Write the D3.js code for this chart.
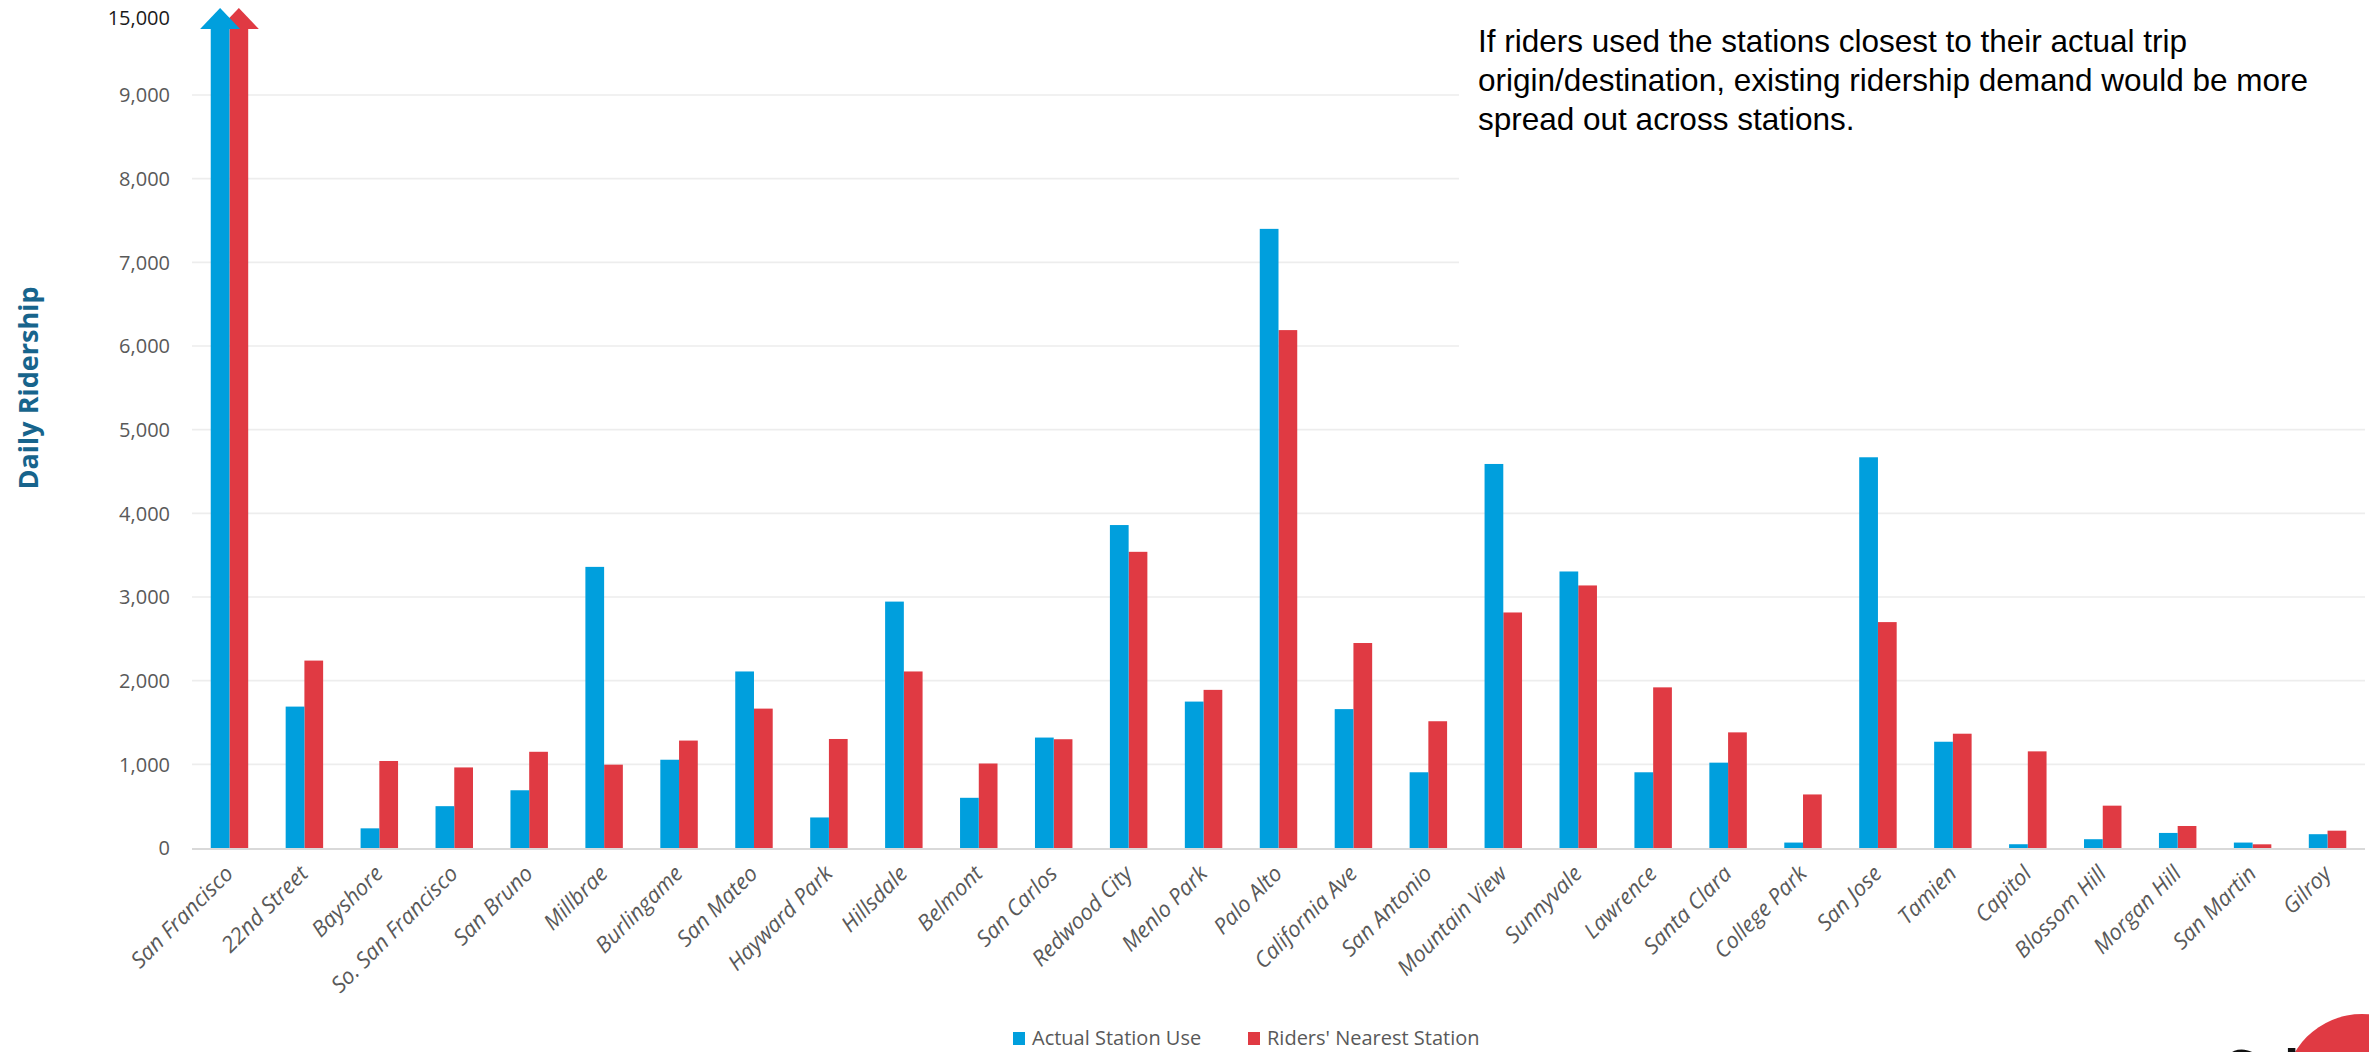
<!DOCTYPE html>
<html>
<head>
<meta charset="utf-8">
<script src="https://cdn.jsdelivr.net/npm/d3@7"></script>
<style>
  html, body { margin: 0; padding: 0; background: #ffffff; }
  svg { display: block; }
</style>
</head>
<body>
<svg id="chart" width="2369" height="1052"></svg>
<script>
// ---------- DATA ----------
const categories = ["San Francisco", "22nd Street", "Bayshore", "So. San Francisco", "San Bruno", "Millbrae",
  "Burlingame", "San Mateo", "Hayward Park", "Hillsdale", "Belmont", "San Carlos", "Redwood City",
  "Menlo Park", "Palo Alto", "California Ave", "San Antonio", "Mountain View", "Sunnyvale", "Lawrence",
  "Santa Clara", "College Park", "San Jose", "Tamien", "Capitol", "Blossom Hill", "Morgan Hill",
  "San Martin", "Gilroy"];
const actualStationUse = [15000, 1690, 235, 500, 690, 3360, 1055, 2110, 365, 2945, 600, 1320, 3860,
  1750, 7400, 1660, 905, 4590, 3305, 905, 1020, 65, 4670, 1270, 45, 105, 180, 65, 165];
const ridersNearestStation = [15000, 2240, 1040, 963, 1150, 996, 1284, 1666, 1303, 2110, 1010, 1300, 3540,
  1890, 6190, 2450, 1515, 2815, 3138, 1920, 1382, 640, 2700, 1366, 1155, 506, 263, 44, 207];
const seriesNames = ["Actual Station Use", "Riders' Nearest Station"];
const seriesColors = ["#009fdd", "#e03a43"];
const yTickValues = [0, 1000, 2000, 3000, 4000, 5000, 6000, 7000, 8000, 9000, 15000];
const yBreakValues = [0, 9000, 15000];   // broken axis: 9,000 then jumps to 15,000
const axisTitle = "Daily Ridership";
const noteLines = ["If riders used the stations closest to their actual trip",
  "origin/destination, existing ridership demand would be more",
  "spread out across stations."];

// ---------- LAYOUT ----------
const svg = d3.select("#chart");
const W = 2369, H = 1052;
const plot = { left: 192, right: 2365, top: 18, bottom: 848 };

const x = d3.scaleBand().domain(categories).range([plot.left, plot.right])
  .paddingInner(0.5).paddingOuter(0.25);
const xs = d3.scaleBand().domain([0, 1]).range([0, x.bandwidth()]).padding(0);
const y = d3.scaleLinear().domain(yBreakValues).range([plot.bottom, 95, plot.top]);

// gridlines (not at 0, not at 15,000)
svg.append("g").selectAll("line")
  .data(yTickValues.filter(v => v > 0 && v <= 9000))
  .join("line")
  .attr("x1", plot.left).attr("x2", plot.right)
  .attr("y1", d => y(d)).attr("y2", d => y(d))
  .attr("stroke", "#ededed").attr("stroke-width", 1.6);

// y axis labels
const yAxis = d3.axisLeft(y).tickValues(yTickValues).tickFormat(d3.format(",")).tickSize(0).tickPadding(0);
const yg = svg.append("g").attr("transform", `translate(170,0)`).call(yAxis);
yg.select(".domain").remove();
yg.selectAll("text")
  .attr("font-family", "'Open Sans', sans-serif")
  .attr("font-size", 20)
  .attr("fill", d => d === 15000 ? "#1a1a1a" : "#595959")
  .attr("dy", "0.34em");

// bars
const rows = categories.map((c, i) => ({ c, vals: [actualStationUse[i], ridersNearestStation[i]] }));
const capped = v => v > 9000;
const groups = svg.append("g").selectAll("g").data(rows).join("g")
  .attr("transform", d => `translate(${x(d.c)},0)`);

// draw red (series 1) first then blue so blue arrowhead overlaps red
[1, 0].forEach(s => {
  groups.append("rect")
    .attr("x", xs(s))
    .attr("width", xs.bandwidth())
    .attr("y", d => capped(d.vals[s]) ? y(d.vals[s]) + 11 : y(d.vals[s]))
    .attr("height", d => plot.bottom - (capped(d.vals[s]) ? y(d.vals[s]) + 11 : y(d.vals[s])))
    .attr("fill", seriesColors[s]);
  groups.filter(d => capped(d.vals[s])).append("path")
    .attr("d", d => {
      const cx = xs(s) + xs.bandwidth() / 2;
      const top = y(d.vals[s]);
      return `M${cx - 20},${top + 11} L${cx},${top - 10} L${cx + 20},${top + 11} Z`;
    })
    .attr("fill", seriesColors[s]);
});

// baseline
svg.append("line")
  .attr("x1", plot.left).attr("x2", plot.right)
  .attr("y1", y(0) + 1).attr("y2", y(0) + 1)
  .attr("stroke", "#d9d9d9").attr("stroke-width", 2);

// x labels
svg.append("g").selectAll("text").data(categories).join("text")
  .attr("transform", d => `translate(${x(d) + x.bandwidth() / 2 + 5},875) rotate(-45)`)
  .attr("text-anchor", "end")
  .attr("font-family", "'Open Sans', sans-serif")
  .attr("font-style", "italic")
  .attr("font-size", 22)
  .attr("fill", "#595959")
  .text(d => d);

// y title
svg.append("text")
  .attr("transform", `translate(38,388) rotate(-90)`)
  .attr("text-anchor", "middle")
  .attr("font-family", "'Open Sans', sans-serif")
  .attr("font-weight", "bold")
  .attr("font-size", 27)
  .attr("fill", "#17648c")
  .text(axisTitle);

// white note box covering gridlines
svg.append("rect").attr("x", 1459).attr("y", 0).attr("width", W - 1459).attr("height", 392).attr("fill", "#ffffff");
svg.append("g").selectAll("text").data(noteLines).join("text")
  .attr("x", 1478)
  .attr("y", (d, i) => 52 + i * 39)
  .attr("font-family", "'Liberation Sans', Arial, sans-serif")
  .attr("font-size", 31.5)
  .attr("fill", "#000")
  .text(d => d);

// legend
const legend = svg.append("g");
const legendX = [1013, 1248];
seriesNames.forEach((n, i) => {
  legend.append("rect").attr("x", legendX[i]).attr("y", 1032).attr("width", 12).attr("height", 13)
    .attr("fill", seriesColors[i]);
  legend.append("text").attr("x", legendX[i] + 19).attr("y", 1045)
    .attr("font-family", "'Open Sans', sans-serif").attr("font-size", 20).attr("fill", "#595959")
    .text(n);
});

// corner logo fragment
svg.append("circle").attr("cx", 2362).attr("cy", 1092).attr("r", 78).attr("fill", "#e03a43");
svg.append("text").attr("x", 2222).attr("y", 1086)
  .attr("font-family", "'Open Sans', sans-serif").attr("font-weight", "bold").attr("font-size", 50)
  .attr("fill", "#111").text("Cal");
</script>
</body>
</html>
